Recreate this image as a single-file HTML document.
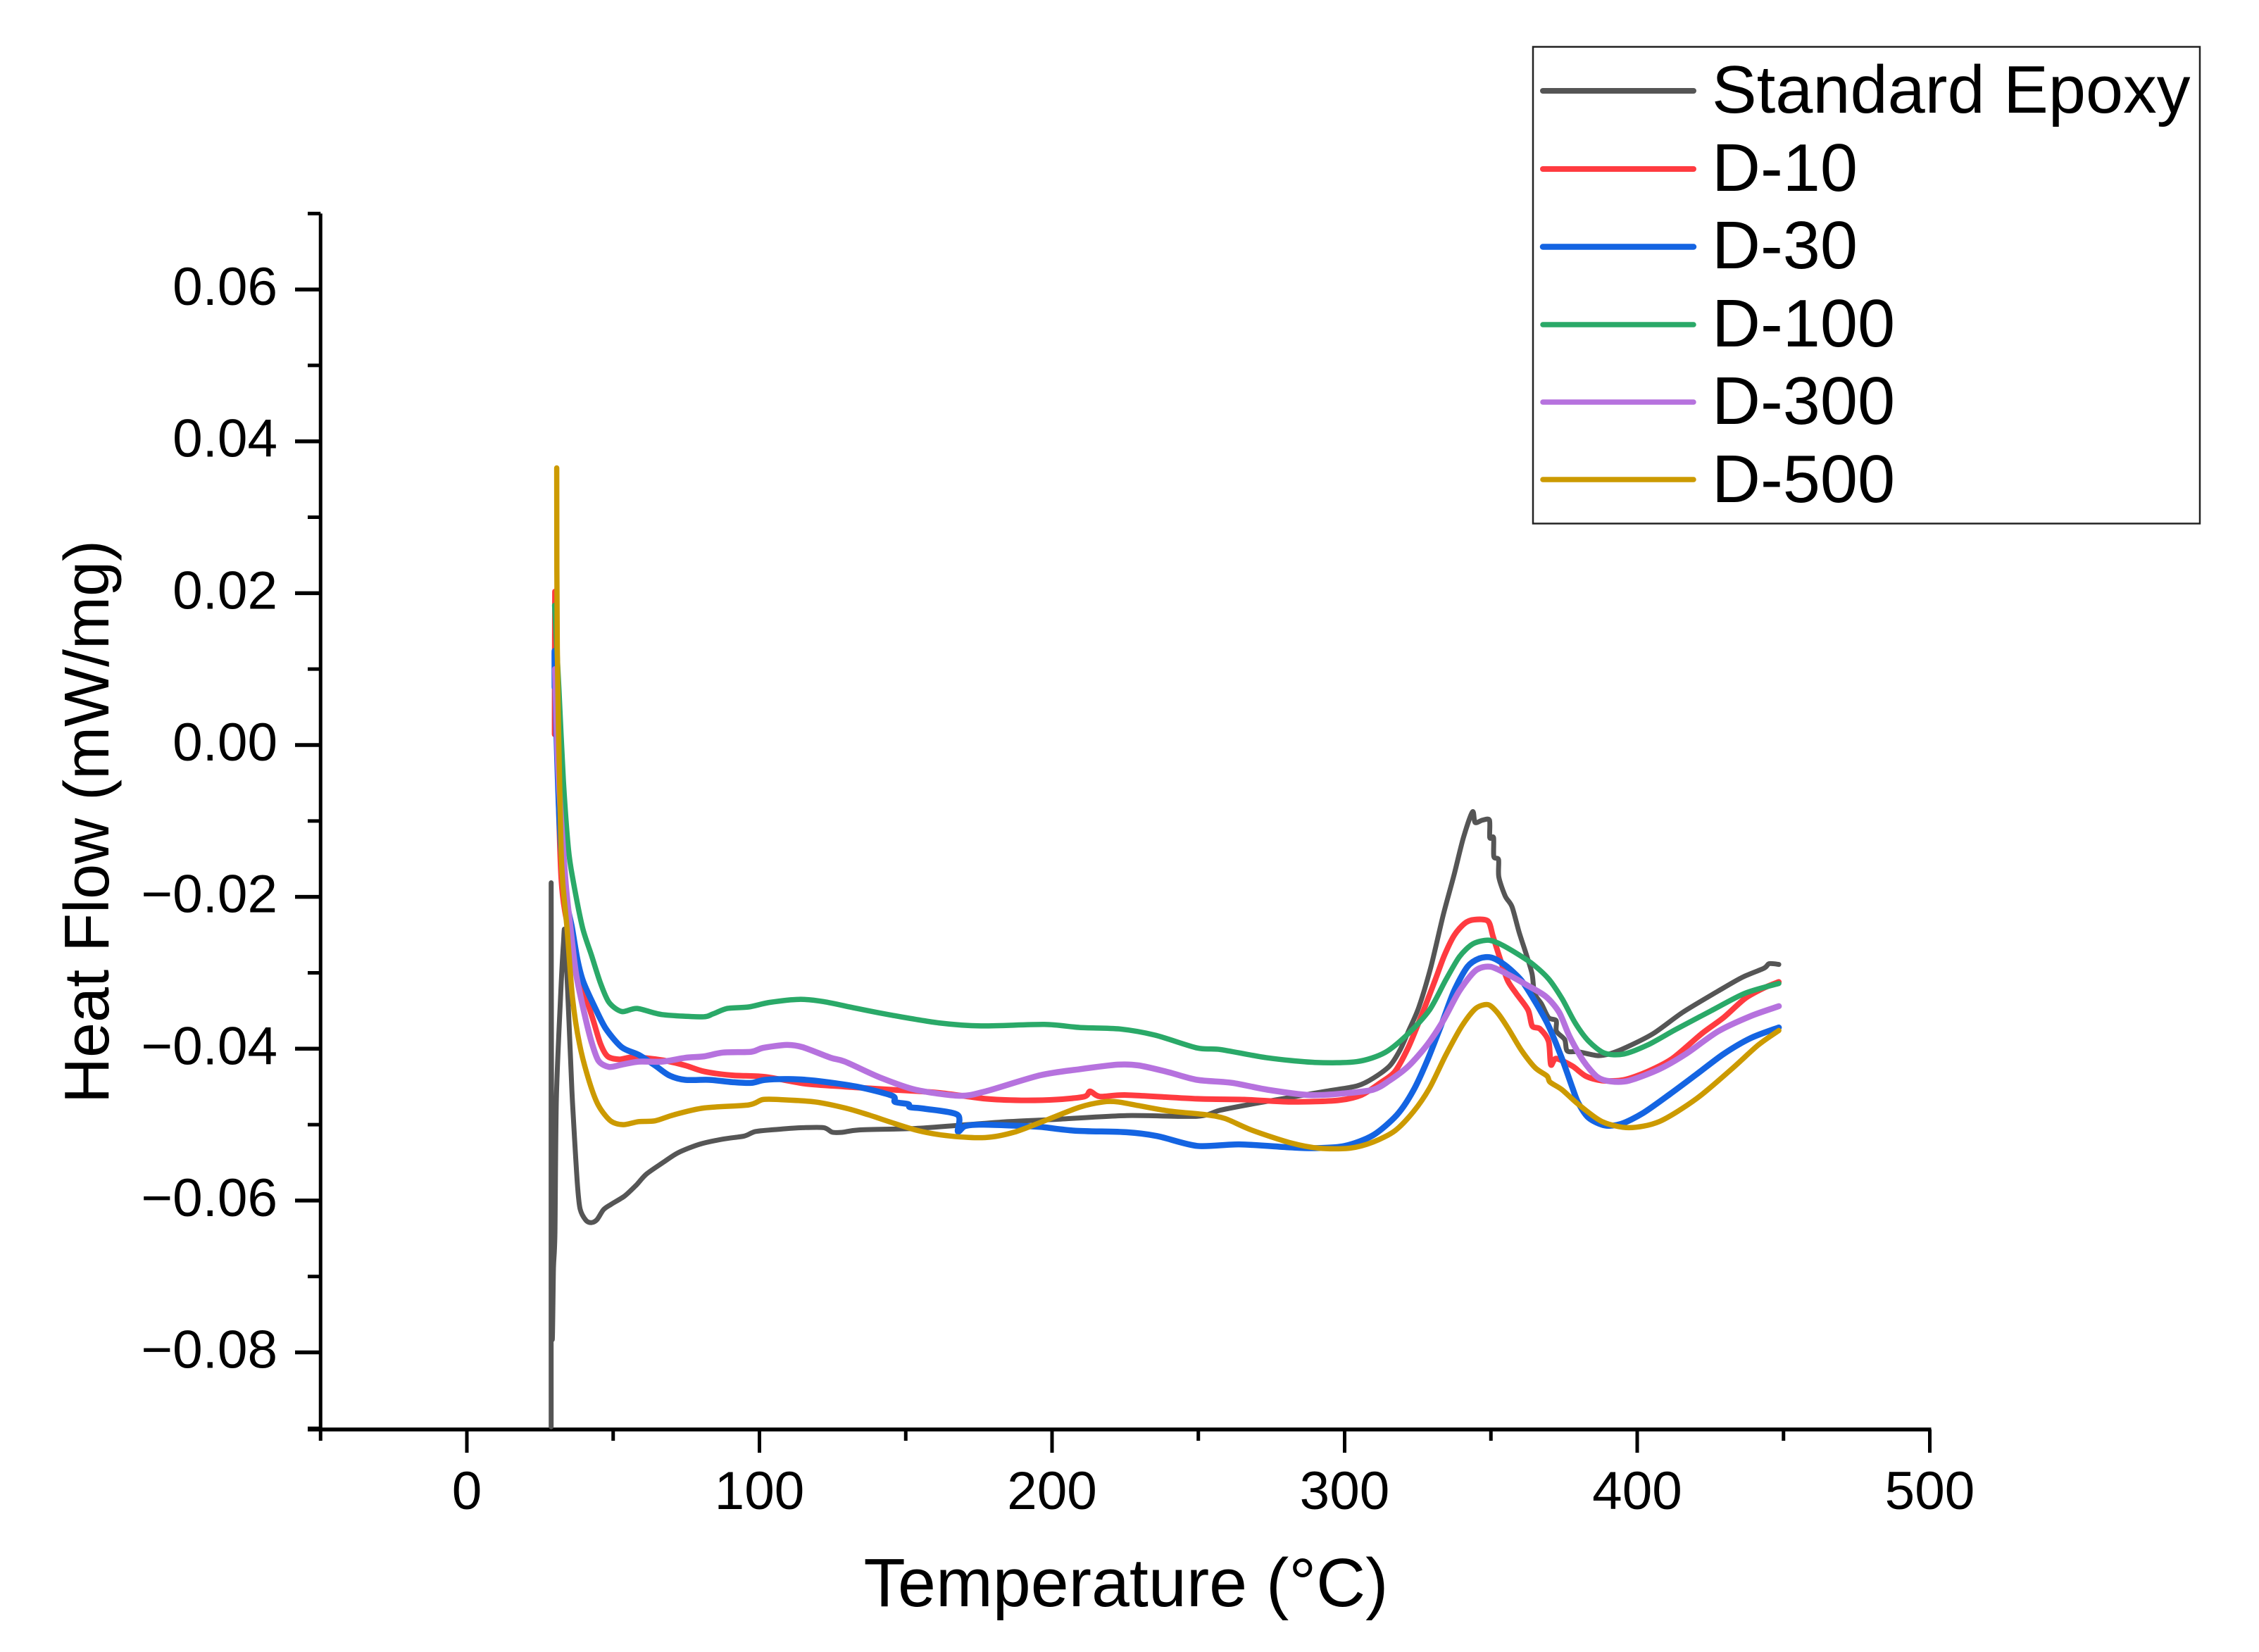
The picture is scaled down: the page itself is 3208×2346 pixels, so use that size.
<!DOCTYPE html>
<html lang="en">
<head>
<meta charset="utf-8">
<title>Heat Flow vs Temperature</title>
<style>
html,body{margin:0;padding:0;background:#fff;}
svg{display:block;}
text{font-family:"Liberation Sans",Arial,sans-serif;fill:#000;}
</style>
</head>
<body>
<svg id="chart" xmlns="http://www.w3.org/2000/svg" width="3208" height="2346" viewBox="0 0 3208 2346">
  <rect x="0" y="0" width="3208" height="2346" fill="#fff"/>
  <g id="axes"></g>
  <g id="series"></g>
  <text x="1599" y="2281" font-size="97" text-anchor="middle">Temperature (°C)</text>
  <text transform="translate(154,1167) rotate(-90)" font-size="90" text-anchor="middle">Heat Flow (mW/mg)</text>
  <g>
    <rect x="2177" y="66.5" width="947" height="677" fill="#fff" stroke="#222" stroke-width="2.5"/>
    <g>
      <line x1="2191" x2="2405" y1="129" y2="129" stroke="#555555" stroke-width="8" stroke-linecap="round"/>
      <text x="2431" y="160" font-size="95.5">Standard Epoxy</text>
    </g>
    <g>
      <line x1="2191" x2="2405" y1="240" y2="240" stroke="#ff3b40" stroke-width="8" stroke-linecap="round"/>
      <text x="2431" y="271" font-size="95.5">D-10</text>
    </g>
    <g>
      <line x1="2191" x2="2405" y1="350.5" y2="350.5" stroke="#1464e2" stroke-width="8.5" stroke-linecap="round"/>
      <text x="2431" y="381" font-size="95.5">D-30</text>
    </g>
    <g>
      <line x1="2191" x2="2405" y1="461" y2="461" stroke="#2aa968" stroke-width="7.5" stroke-linecap="round"/>
      <text x="2431" y="492" font-size="95.5">D-100</text>
    </g>
    <g>
      <line x1="2191" x2="2405" y1="571" y2="571" stroke="#b672de" stroke-width="7.5" stroke-linecap="round"/>
      <text x="2431" y="602" font-size="95.5">D-300</text>
    </g>
    <g>
      <line x1="2191" x2="2405" y1="681" y2="681" stroke="#cc9a00" stroke-width="7.5" stroke-linecap="round"/>
      <text x="2431" y="713" font-size="95.5">D-500</text>
    </g>
  </g>
</svg>
<script>
var xMajorTicks = [0, 100, 200, 300, 400, 500];
var xMinorTicks = [-50, 50, 150, 250, 350, 450];
var yMajorTicks = [-0.08, -0.06, -0.04, -0.02, 0, 0.02, 0.04, 0.06];
var yMinorTicks = [-0.09, -0.07, -0.05, -0.03, -0.01, 0.01, 0.03, 0.05, 0.07];
var yTickLabels = ['\u22120.08', '\u22120.06', '\u22120.04', '\u22120.02', '0.00', '0.02', '0.04', '0.06'];

var standardEpoxyT = [28.8,28.8,29.1,29.6,30.1,30.6,32.0,33.0,33.5,34.9,35.9,36.8,37.8,38.7,40.7,42.6,44.5,46.7,49.3,53.9,57.8,61.4,67.4,72.2,79.4,87.6,94.8,98.7,106.9,114.8,122.0,124.9,128.5,134.1,153.3,167.7,185.3,201.4,225.5,249.6,257.5,268.1,281.6,293.6,304.2,309.7,315.3,318.9,321.8,325.4,329.5,333.7,337.4,340.6,343.7,344.6,347.1,349.5,349.6,350.9,351.0,352.6,352.7,354.9,357.2,359.6,362.2,364.1,364.9,367.3,369.7,372.3,372.4,375.2,376.1,379.8,386.3,390.4,396.4,405.5,415.6,427.7,435.9,443.3,445.1,448.4];
var standardEpoxyHF = [-0.0898,-0.0182,-0.0762,-0.0688,-0.0642,-0.0466,-0.0333,-0.0262,-0.0248,-0.0364,-0.0456,-0.0518,-0.0580,-0.0611,-0.0626,-0.0629,-0.0625,-0.0612,-0.0605,-0.0594,-0.0580,-0.0565,-0.0549,-0.0537,-0.0526,-0.0519,-0.0515,-0.0509,-0.0506,-0.0504,-0.0504,-0.0510,-0.0510,-0.0507,-0.0505,-0.0501,-0.0496,-0.0493,-0.0488,-0.0489,-0.0481,-0.0473,-0.0464,-0.0456,-0.0449,-0.0439,-0.0423,-0.0402,-0.0377,-0.0345,-0.0292,-0.0224,-0.0171,-0.0122,-0.0088,-0.0102,-0.0099,-0.0099,-0.0122,-0.0122,-0.0147,-0.0151,-0.0174,-0.0199,-0.0213,-0.0246,-0.0277,-0.0302,-0.0327,-0.0341,-0.0359,-0.0363,-0.0377,-0.0388,-0.0403,-0.0404,-0.0409,-0.0407,-0.0398,-0.0380,-0.0352,-0.0324,-0.0306,-0.0294,-0.0288,-0.0289];

var d10T = [30.0,30.1,30.6,32.3,35.9,39.5,43.3,45.7,48.1,52.2,57.0,66.7,74.6,81.1,90.7,102.0,115.5,129.2,145.4,161.3,177.4,189.4,201.4,211.1,213.0,216.4,225.5,249.6,265.7,281.6,297.7,305.7,312.2,317.2,321.8,326.4,330.9,334.1,337.4,341.0,344.3,349.0,350.7,353.1,355.7,358.6,362.7,364.1,366.8,369.7,370.5,372.3,377.9,382.4,388.0,395.4,403.6,412.0,422.1,429.5,436.8,443.3,448.4];
var d10HF = [0.0014,0.0202,0.0054,-0.0178,-0.0262,-0.0317,-0.0364,-0.0394,-0.0410,-0.0414,-0.0411,-0.0415,-0.0422,-0.0430,-0.0435,-0.0437,-0.0446,-0.0450,-0.0454,-0.0458,-0.0466,-0.0468,-0.0467,-0.0463,-0.0456,-0.0463,-0.0461,-0.0466,-0.0467,-0.0470,-0.0468,-0.0461,-0.0445,-0.0430,-0.0398,-0.0355,-0.0310,-0.0277,-0.0251,-0.0235,-0.0230,-0.0232,-0.0252,-0.0281,-0.0310,-0.0327,-0.0349,-0.0370,-0.0374,-0.0390,-0.0421,-0.0413,-0.0423,-0.0436,-0.0442,-0.0441,-0.0430,-0.0413,-0.0380,-0.0359,-0.0334,-0.0320,-0.0312];

var d30T = [30.0,30.0,30.6,31.8,33.7,35.9,37.8,39.7,43.3,47.4,52.9,58.7,64.3,69.1,74.6,82.8,90.7,97.2,102.0,110.0,118.9,133.3,145.4,146.3,150.9,151.4,156.4,167.7,167.8,170.2,175.0,185.3,195.9,207.9,225.5,235.9,249.6,264.0,281.6,289.8,300.1,309.7,317.9,323.5,328.2,332.9,337.4,342.0,346.1,350.2,354.9,360.4,365.1,369.7,374.3,377.9,379.8,383.4,388.9,394.5,401.9,411.1,420.2,429.5,438.8,448.4];
var d30HF = [0.0076,0.0123,0.0017,-0.0113,-0.0197,-0.0240,-0.0283,-0.0311,-0.0342,-0.0373,-0.0398,-0.0408,-0.0422,-0.0435,-0.0441,-0.0441,-0.0444,-0.0445,-0.0441,-0.0440,-0.0442,-0.0450,-0.0462,-0.0470,-0.0473,-0.0477,-0.0479,-0.0487,-0.0509,-0.0502,-0.0500,-0.0501,-0.0503,-0.0508,-0.0510,-0.0515,-0.0528,-0.0526,-0.0530,-0.0531,-0.0528,-0.0514,-0.0487,-0.0455,-0.0416,-0.0370,-0.0324,-0.0292,-0.0281,-0.0280,-0.0290,-0.0310,-0.0338,-0.0370,-0.0413,-0.0452,-0.0471,-0.0491,-0.0501,-0.0499,-0.0485,-0.0460,-0.0434,-0.0407,-0.0386,-0.0372];

var d100T = [30.0,31.5,33.0,34.7,36.3,39.5,42.6,45.7,48.6,52.9,58.2,66.7,80.4,84.2,89.0,96.3,103.5,113.6,122.0,133.3,145.4,161.3,175.7,197.4,209.4,223.1,235.1,249.6,257.5,273.6,289.8,304.2,313.8,321.8,329.0,334.5,339.2,343.8,349.0,353.1,358.6,364.1,369.7,374.3,378.8,383.4,388.9,395.4,403.6,413.0,424.8,436.8,448.4];
var d100HF = [0.0184,0.0070,-0.0048,-0.0137,-0.0178,-0.0240,-0.0277,-0.0314,-0.0339,-0.0351,-0.0347,-0.0355,-0.0358,-0.0354,-0.0347,-0.0345,-0.0339,-0.0335,-0.0338,-0.0347,-0.0356,-0.0366,-0.0370,-0.0368,-0.0372,-0.0374,-0.0382,-0.0399,-0.0401,-0.0412,-0.0418,-0.0417,-0.0405,-0.0380,-0.0349,-0.0310,-0.0279,-0.0262,-0.0257,-0.0262,-0.0274,-0.0288,-0.0308,-0.0334,-0.0366,-0.0390,-0.0406,-0.0407,-0.0395,-0.0375,-0.0351,-0.0327,-0.0314];

var d300T = [30.1,31.3,33.7,35.4,37.3,40.2,42.6,45.0,48.6,52.9,58.7,66.7,74.6,81.1,87.6,97.2,101.1,109.3,114.8,124.4,129.2,141.3,153.3,168.5,177.4,195.9,209.4,222.4,229.6,239.9,249.6,261.6,273.6,288.1,299.4,309.7,315.3,321.8,328.2,333.7,339.2,344.8,349.8,355.7,362.2,368.7,373.3,376.9,381.6,386.3,390.9,397.2,407.5,416.6,427.7,438.8,448.4];
var d300HF = [0.0100,-0.0039,-0.0178,-0.0240,-0.0301,-0.0354,-0.0391,-0.0416,-0.0424,-0.0421,-0.0417,-0.0417,-0.0412,-0.0410,-0.0405,-0.0404,-0.0399,-0.0395,-0.0398,-0.0412,-0.0417,-0.0438,-0.0454,-0.0462,-0.0456,-0.0435,-0.0427,-0.0421,-0.0422,-0.0431,-0.0441,-0.0445,-0.0454,-0.0461,-0.0459,-0.0454,-0.0442,-0.0423,-0.0395,-0.0363,-0.0324,-0.0297,-0.0292,-0.0302,-0.0316,-0.0331,-0.0352,-0.0384,-0.0416,-0.0437,-0.0443,-0.0442,-0.0427,-0.0407,-0.0377,-0.0357,-0.0344];

var d500T = [30.7,30.9,32.0,32.7,34.2,36.1,38.5,41.9,45.0,49.1,53.4,58.7,64.3,70.8,81.1,96.3,101.1,106.9,118.9,129.2,137.2,153.3,165.3,177.4,187.0,197.4,209.4,217.6,222.4,229.6,239.9,252.7,259.2,268.1,281.6,291.2,301.8,309.7,317.2,323.5,329.0,334.5,340.1,344.8,349.0,352.1,355.7,360.4,365.1,369.2,370.2,374.3,379.8,388.0,397.2,407.5,420.2,432.2,441.4,448.4];
var d500HF = [0.0365,0.0128,-0.0108,-0.0178,-0.0240,-0.0333,-0.0394,-0.0444,-0.0475,-0.0495,-0.0500,-0.0496,-0.0495,-0.0487,-0.0478,-0.0474,-0.0467,-0.0467,-0.0470,-0.0478,-0.0487,-0.0507,-0.0515,-0.0517,-0.0510,-0.0495,-0.0477,-0.0470,-0.0470,-0.0475,-0.0482,-0.0487,-0.0492,-0.0507,-0.0524,-0.0531,-0.0531,-0.0523,-0.0508,-0.0483,-0.0452,-0.0409,-0.0370,-0.0347,-0.0342,-0.0352,-0.0372,-0.0402,-0.0425,-0.0436,-0.0444,-0.0454,-0.0473,-0.0496,-0.0504,-0.0496,-0.0466,-0.0427,-0.0395,-0.0376];

var seriesNames = ['standard-epoxy', 'd-10', 'd-30', 'd-100', 'd-300', 'd-500'];
var seriesT = [standardEpoxyT, d10T, d30T, d100T, d300T, d500T];
var seriesHF = [standardEpoxyHF, d10HF, d30HF, d100HF, d300HF, d500HF];
var seriesColors = ['#555555', '#ff3b40', '#1464e2', '#2aa968', '#b672de', '#cc9a00'];
var seriesWidths = [7, 8, 8.5, 7.5, 8.5, 7.5];

var NS = 'http://www.w3.org/2000/svg';
function xScale(t) { return 663 + 4.155 * t; }
function yScale(v) { return 1058 - 10782 * v; }
var axes = document.getElementById('axes');
var seriesGroup = document.getElementById('series');

function axisLine(x1, y1, x2, y2, w) {
  var el = document.createElementNS(NS, 'line');
  el.setAttribute('x1', x1);
  el.setAttribute('y1', y1);
  el.setAttribute('x2', x2);
  el.setAttribute('y2', y2);
  el.setAttribute('stroke', '#000');
  el.setAttribute('stroke-width', w);
  axes.appendChild(el);
  return el;
}
function label(str, x, y, anchor) {
  var el = document.createElementNS(NS, 'text');
  el.setAttribute('x', x);
  el.setAttribute('y', y);
  el.setAttribute('font-size', '76.5');
  el.setAttribute('text-anchor', anchor);
  el.textContent = str;
  axes.appendChild(el);
  return el;
}
/* Smooth curve through the scaled points (Catmull-Rom to cubic Bezier). */
function smoothPath(px, py) {
  var k = 0.14;
  var d = 'M' + px[0].toFixed(1) + ' ' + py[0].toFixed(1);
  for (var j = 0; j < px.length - 1; j++) {
    var p = Math.max(j - 1, 0);
    var n = Math.min(j + 2, px.length - 1);
    var c1x = px[j] + (px[j + 1] - px[p]) * k;
    var c1y = py[j] + (py[j + 1] - py[p]) * k;
    var c2x = px[j + 1] - (px[n] - px[j]) * k;
    var c2y = py[j + 1] - (py[n] - py[j]) * k;
    d += 'C' + c1x.toFixed(1) + ' ' + c1y.toFixed(1) + ' ' + c2x.toFixed(1) + ' ' + c2y.toFixed(1) + ' ' + px[j + 1].toFixed(1) + ' ' + py[j + 1].toFixed(1);
  }
  return d;
}

var yAxisLine = axisLine(xScale(-50), yScale(0.07), xScale(-50), 2030, 5);


var xAxisLine = axisLine(437, 2030, xScale(500) + 2, 2030, 5.5);



xMajorTicks.forEach(function (t) {
  var tick = axisLine(xScale(t), 2030, xScale(t), 2063, 5);
  
  
  var lab = label(String(t), xScale(t), 2143, 'middle');
  
  
});
xMinorTicks.forEach(function (t) {
  var tick = axisLine(xScale(t), 2030, xScale(t), 2046, 5);
  
  
});
yMajorTicks.forEach(function (v, i) {
  var tick = axisLine(419, yScale(v), xScale(-50), yScale(v), 5.5);
  
  
  var lab = label(yTickLabels[i], 394, yScale(v) + 22, 'end');
  
  
});
yMinorTicks.forEach(function (v) {
  var tick = axisLine(437, yScale(v), xScale(-50), yScale(v), 5);
  
  
});

seriesNames.forEach(function (name, i) {
  var px = seriesT[i].map(xScale);
  var py = seriesHF[i].map(yScale);
  var el = document.createElementNS(NS, 'path');
  el.setAttribute('d', smoothPath(px, py));
  el.setAttribute('fill', 'none');
  el.setAttribute('stroke', seriesColors[i]);
  el.setAttribute('stroke-width', seriesWidths[i]);
  el.setAttribute('stroke-linejoin', 'round');
  el.setAttribute('stroke-linecap', 'round');
  
  
  seriesGroup.appendChild(el);
});
</script>
</body>
</html>
